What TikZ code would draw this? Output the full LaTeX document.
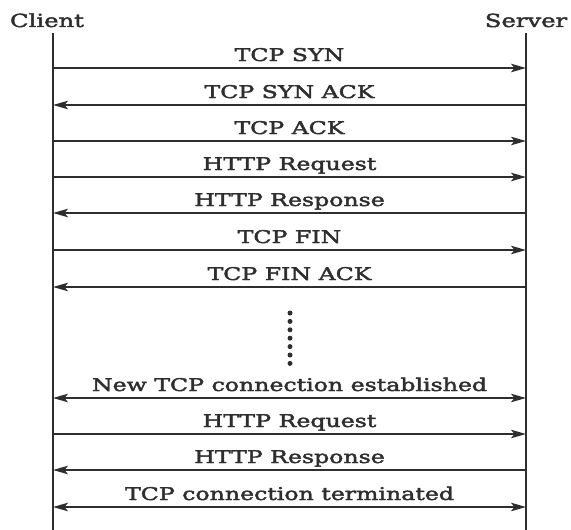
\documentclass[tikz,border=0pt]{standalone}
\usepackage{fontspec}
\setmainfont[FakeStretch=1.35, FakeBold=2.4]{DejaVu Serif}
\usetikzlibrary{arrows.meta,calc}
\definecolor{ink}{HTML}{2E2E2E}
\tikzset{
  tip/.tip={Stealth[length=15pt,width=8.5pt,inset=3.5pt]},
  lifeline/.style={draw=ink, line width=2pt},
  msg/.style={draw=ink, line width=2pt, -tip},
  bimsg/.style={draw=ink, line width=2pt, tip-tip},
  lbl/.style={text=ink, font=\fontsize{17.5}{19}\selectfont, anchor=base, inner sep=0pt},
  actor/.style={text=ink, font=\fontsize{18}{20}\selectfont, anchor=base, inner sep=0pt},
  dot/.style={circle, fill=ink, inner sep=0pt, minimum size=5pt}
}
\begin{document}
\begin{tikzpicture}[x=1pt, y=-1pt]
\useasboundingbox (0,0) rectangle (571,530);

% participants
\node[actor] (client) at (47,27) {Client};
\node[actor] (server) at (526,27) {Server};

% lifelines
\coordinate (ctop) at (53,33);
\coordinate (cbot) at (53,530);
\coordinate (stop) at (526,33);
\coordinate (sbot) at (526,530);
\draw[lifeline] (ctop) -- (cbot);
\draw[lifeline] (stop) -- (sbot);

% message rows on both lifelines
\foreach \i/\y in {1/68, 2/105, 3/141, 4/177, 5/213, 6/250, 7/287,
                   8/398, 9/434, 10/470, 11/507} {
  \coordinate (c\i) at (53,\y);
  \coordinate (s\i) at (526,\y);
}

% first connection
\draw[msg] (c1) -- (s1);
\node[lbl] (m1) at ([yshift=7pt]$(c1)!0.5!(s1)$) {TCP SYN};
\draw[msg] (s2) -- (c2);
\node[lbl] (m2) at ([yshift=7pt]$(c2)!0.5!(s2)$) {TCP SYN ACK};
\draw[msg] (c3) -- (s3);
\node[lbl] (m3) at ([yshift=7pt]$(c3)!0.5!(s3)$) {TCP ACK};
\draw[msg] (c4) -- (s4);
\node[lbl] (m4) at ([yshift=7pt]$(c4)!0.5!(s4)$) {HTTP Request};
\draw[msg] (s5) -- (c5);
\node[lbl] (m5) at ([yshift=7pt]$(c5)!0.5!(s5)$) {HTTP Response};
\draw[msg] (c6) -- (s6);
\node[lbl] (m6) at ([yshift=7pt]$(c6)!0.5!(s6)$) {TCP FIN};
\draw[msg] (s7) -- (c7);
\node[lbl] (m7) at ([yshift=7pt]$(c7)!0.5!(s7)$) {TCP FIN ACK};

% ellipsis between connections
\foreach \k in {0,...,6} {
  \node[dot] (d\k) at (290,{313+8.4*\k}) {};
}

% next connection
\draw[bimsg] (c8) -- (s8);
\node[lbl] (m8) at ([yshift=7pt]$(c8)!0.5!(s8)$) {New TCP connection established};
\draw[msg] (c9) -- (s9);
\node[lbl] (m9) at ([yshift=7pt]$(c9)!0.5!(s9)$) {HTTP Request};
\draw[msg] (s10) -- (c10);
\node[lbl] (m10) at ([yshift=7pt]$(c10)!0.5!(s10)$) {HTTP Response};
\draw[bimsg] (c11) -- (s11);
\node[lbl] (m11) at ([yshift=7pt]$(c11)!0.5!(s11)$) {TCP connection terminated};
\end{tikzpicture}
\end{document}
